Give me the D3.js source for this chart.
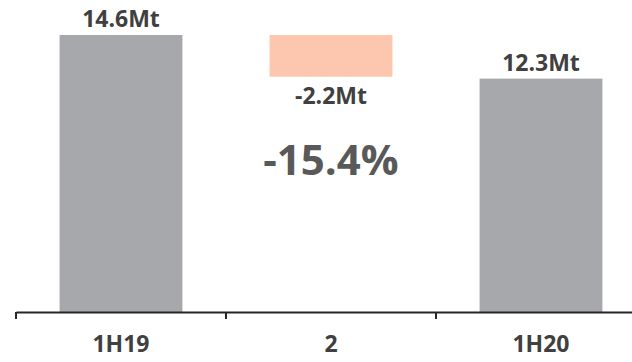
<!DOCTYPE html>
<html>
<head>
<meta charset="utf-8">
<script src="https://cdn.jsdelivr.net/npm/d3@7"></script>
<style>
  body { margin: 0; background: #fff; }
  svg text { font-family: "Open Sans", sans-serif; font-weight: bold; }
</style>
</head>
<body>
<div></div>
<script>
// data
var categories = ["1H19", "2", "1H20"];
var startValues = [0, 14.6, 0];      // where each bar begins
var endValues = [14.6, 12.4, 12.3];  // where each bar ends
var valueLabels = ["14.6Mt", "-2.2Mt", "12.3Mt"];
var barKinds = ["total", "delta", "total"];
var changeLabel = "-15.4%";

var width = 632, height = 362;

var svg = d3.select("body").select("div").append("svg")
	.attr("width", width)
	.attr("height", height);

var x = d3.scaleBand()
	.domain(categories)
	.range([16, 646])
	.paddingInner(0)
	.paddingOuter(0);

var y = d3.scaleLinear()
	.domain([0, 14.6])
	.range([312, 35]);

var barW = x.bandwidth() * 0.585;

var rows = categories.map(function(c, i) {
	return { cat: c, lo: Math.min(startValues[i], endValues[i]), hi: Math.max(startValues[i], endValues[i]),
		label: valueLabels[i], kind: barKinds[i] };
});

// bars
svg.append("g").selectAll("rect")
	.data(rows)
	.enter()
	.append("rect")
	.attr("x", function(d) { return x(d.cat) + (x.bandwidth() - barW) / 2; })
	.attr("y", function(d) { return y(d.hi); })
	.attr("width", barW)
	.attr("height", function(d) { return y(d.lo) - y(d.hi); })
	.style("fill", function(d) { return d.kind == "delta" ? "#fdc7af" : "#a7a8ab"; });

// value labels
svg.append("g").selectAll("text")
	.data(rows)
	.enter()
	.append("text")
	.attr("x", function(d) { return x(d.cat) + x.bandwidth() / 2; })
	.attr("y", function(d) { return d.kind == "delta" ? y(d.lo) + 27 : y(d.hi) - 8; })
	.attr("text-anchor", "middle")
	.style("font-size", "23px")
	.style("fill", "#404040")
	.text(function(d) { return d.label; });

// big change label
svg.append("text")
	.attr("x", x(categories[1]) + x.bandwidth() / 2)
	.attr("y", 175)
	.attr("text-anchor", "middle")
	.style("font-size", "42px")
	.style("fill", "#595959")
	.text(changeLabel);

// x axis
var axis = svg.append("g")
	.attr("transform", "translate(0,312)")
	.call(d3.axisBottom(x).tickSize(0).tickPadding(24));

axis.select(".domain").attr("stroke", "#262626").attr("stroke-width", 2);
axis.selectAll("text")
	.style("font-size", "23px")
	.style("fill", "#404040");

// tick marks at band edges
axis.selectAll("line.edge")
	.data(categories)
	.enter()
	.append("line")
	.attr("class", "edge")
	.attr("x1", function(d) { return x(d); })
	.attr("x2", function(d) { return x(d); })
	.attr("y1", 0)
	.attr("y2", 7)
	.attr("stroke", "#262626")
	.attr("stroke-width", 2);
</script>
</body>
</html>
